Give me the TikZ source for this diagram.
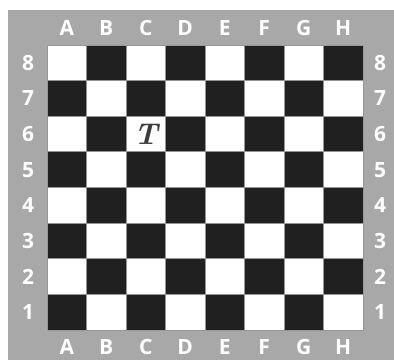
\documentclass[tikz,border=0pt]{standalone}
\usepackage{fontspec}
\setsansfont{Open Sans}
\usepackage{xcolor}
\definecolor{boardgray}{RGB}{168,168,168}
\definecolor{darksq}{RGB}{32,32,32}
\definecolor{gridline}{RGB}{150,150,150}
\definecolor{piecegray}{RGB}{60,60,60}
\usetikzlibrary{positioning}

\begin{document}
\begin{tikzpicture}[x=1pt, y=-1pt,
        square/.style={rectangle, minimum width=39.5pt, minimum height=35.625pt,
          inner sep=0pt, draw=gridline, line width=0.8pt},
        lightsq/.style={square, fill=white},
        blacksq/.style={square, fill=darksq},
        coord/.style={text=white, font=\sffamily\bfseries\fontsize{21}{24}\selectfont, inner sep=0pt},
        piece/.style={text=piecegray, font=\bfseries\itshape\fontsize{30}{32}\selectfont, inner sep=0pt}
      ]
        \useasboundingbox (0,0) rectangle (394,360);
        \fill[boardgray] (8,10) rectangle (394,360);

        % squares, row 8 at the top
        \foreach \c [count=\i] in {A,B,C,D,E,F,G,H} {
          \foreach \r [count=\j] in {8,7,6,5,4,3,2,1} {
            \pgfmathtruncatemacro{\odd}{mod(\i+\j,2)}
            \ifnum\odd=1
              \node[blacksq] (sq-\c\r) at ({47+39.5*(\i-0.5)},{45+35.625*(\j-0.5)}) {};
            \else
              \node[lightsq] (sq-\c\r) at ({47+39.5*(\i-0.5)},{45+35.625*(\j-0.5)}) {};
            \fi
          }
        }

        % file letters
        \foreach \c [count=\i] in {A,B,C,D,E,F,G,H} {
          \node[coord] (top-\c) at ({47+39.5*(\i-0.5)},28) {\c};
          \node[coord] (bot-\c) at ({47+39.5*(\i-0.5)},347) {\c};
        }

        % rank numbers
        \foreach \r [count=\j] in {8,7,6,5,4,3,2,1} {
          \node[coord] (left-\r)  at (28,{45+35.625*(\j-0.5)}) {\r};
          \node[coord] (right-\r) at (380,{45+35.625*(\j-0.5)}) {\r};
        }

        \node[piece] (rook) at (sq-C6) {T};
      \end{tikzpicture}
\end{document}
